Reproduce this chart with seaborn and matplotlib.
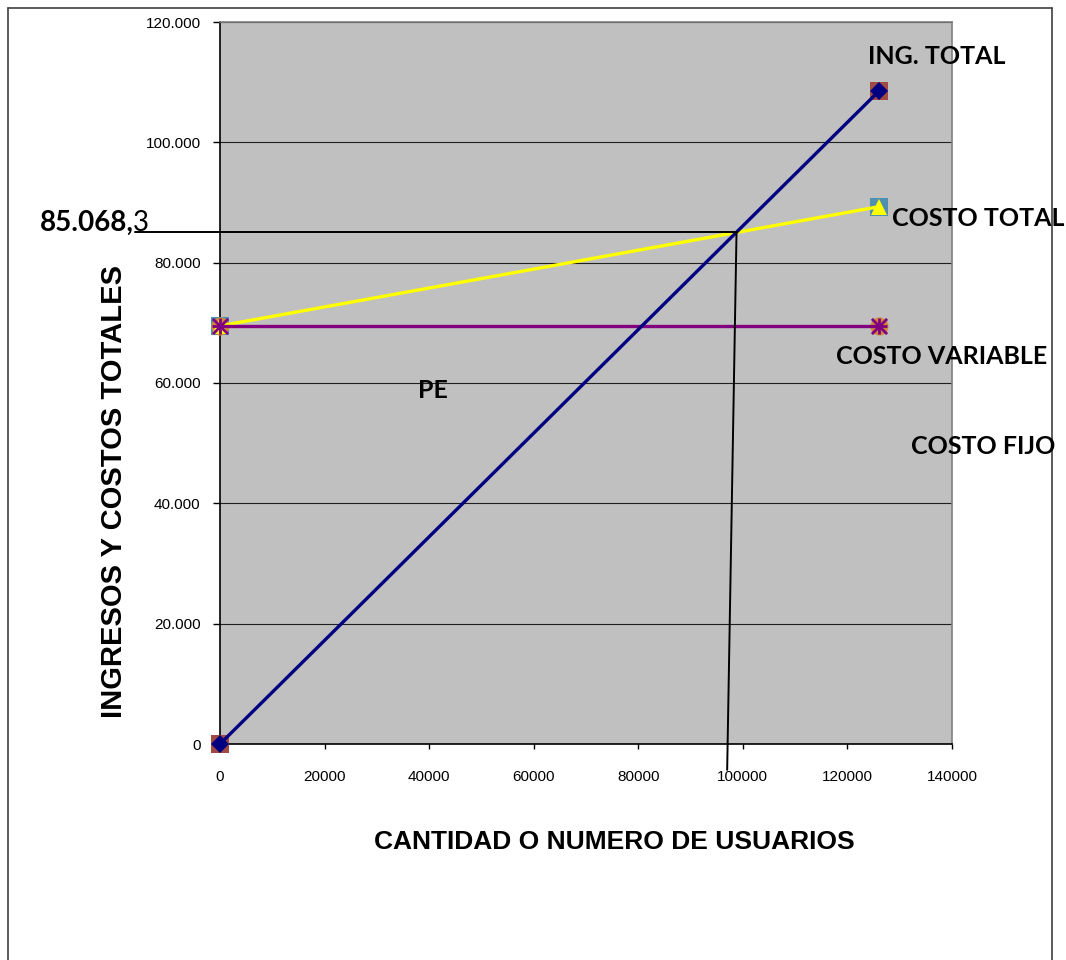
import matplotlib
matplotlib.use("Agg")
import matplotlib.pyplot as plt
import matplotlib.ticker as mticker
from matplotlib.lines import Line2D
import numpy as np
import pandas as pd
import seaborn as sns

# Break-even chart data
usuarios = [0, 126000]
ingreso_total = [0, 108500]
costo_total = [69500, 89300]
costo_fijo = [69500, 69500]
punto_equilibrio = 85068.3

x_ticks = [0, 20000, 40000, 60000, 80000, 100000, 120000, 140000]
y_ticks = [0, 20000, 40000, 60000, 80000, 100000, 120000]

sns.set_theme(style="white")
plt.rcParams["font.family"] = ["Liberation Sans", "DejaVu Sans"]
plt.rcParams["text.color"] = "black"
plt.rcParams["axes.labelcolor"] = "black"
plt.rcParams["xtick.color"] = "black"
plt.rcParams["ytick.color"] = "black"

fig = plt.figure(figsize=(10.66, 9.6), dpi=100)
W, H = 1066, 960
ax = fig.add_axes([220 / W, 1 - 744 / H, (952 - 220) / W, (744 - 22) / H])
ax.set_facecolor("#C0C0C0")

df = pd.DataFrame({
    "x": usuarios * 3,
    "y": ingreso_total + costo_total + costo_fijo,
    "serie": ["ING. TOTAL"] * 2 + ["COSTO TOTAL"] * 2 + ["COSTO FIJO"] * 2,
})

# underlying marker-only series
sns.scatterplot(x=usuarios, y=ingreso_total, marker="s", s=160, color="#A04A44",
                edgecolor="#A04A44", linewidth=0, ax=ax, zorder=3, legend=False,
                clip_on=False)
sns.scatterplot(x=usuarios, y=costo_total, marker="s", s=150, color="#4F8FB0",
                edgecolor="#4F8FB0", linewidth=0, ax=ax, zorder=3, legend=False,
                clip_on=False)
sns.scatterplot(x=usuarios, y=costo_fijo, marker="o", s=170, color="#D08A3A",
                edgecolor="#D08A3A", linewidth=0, ax=ax, zorder=3, legend=False,
                clip_on=False)

# lines with their own markers
palette = {"COSTO TOTAL": "#FFFF00", "COSTO FIJO": "#800080", "ING. TOTAL": "#000080"}
for serie, mk, ms in [("COSTO TOTAL", "^", 11), ("COSTO FIJO", None, 0), ("ING. TOTAL", "D", 9)]:
    sub = df[df["serie"] == serie]
    sns.lineplot(data=sub, x="x", y="y", color=palette[serie], linewidth=2.4,
                 marker=mk, markersize=ms, markeredgewidth=0, ax=ax, zorder=4,
                 legend=False, clip_on=False)

# star markers on the fixed-cost series
for m in ["x", "+"]:
    sns.scatterplot(x=usuarios, y=costo_fijo, marker=m, s=120, color="#800080",
                    linewidth=2, ax=ax, zorder=5, legend=False, clip_on=False)

ax.set_xlim(0, 140000)
ax.set_ylim(0, 120000)
ax.set_xticks(x_ticks)
ax.set_yticks(y_ticks)
ax.xaxis.set_major_formatter(mticker.FuncFormatter(lambda v, p: f"{int(v)}"))
ax.yaxis.set_major_formatter(mticker.FuncFormatter(
    lambda v, p: "0" if v == 0 else f"{int(v):,}".replace(",", ".")))
ax.tick_params(axis="y", direction="out", length=5, width=1, color="black",
               labelsize=11, pad=9, left=True, labelcolor="black")
ax.tick_params(axis="x", direction="out", length=3.6, width=1, color="black",
               labelsize=11, pad=15, bottom=True, labelcolor="black")
ax.grid(axis="y", color="#202020", linewidth=0.8)
ax.set_axisbelow(True)
for side in ["top", "right"]:
    ax.spines[side].set_color("#808080")
    ax.spines[side].set_linewidth(1.2)
for side in ["left", "bottom"]:
    ax.spines[side].set_color("black")
    ax.spines[side].set_linewidth(1.2)

ax.set_xlabel("CANTIDAD O NUMERO DE USUARIOS", fontsize=19, fontweight="bold",
              color="black")
ax.set_ylabel("INGRESOS Y COSTOS TOTALES", fontsize=21, fontweight="bold",
              color="black")
ax.xaxis.set_label_coords((614 - 220) / 732, -(830 - 744) / 722)
ax.yaxis.set_label_coords(-(220 - 128) / 732, (744 - 491) / 722)

# break-even guide lines
pe_x = punto_equilibrio * usuarios[1] / ingreso_total[1]
ax.add_line(Line2D([-16300, pe_x], [punto_equilibrio, punto_equilibrio],
                   color="black", linewidth=1.4, clip_on=False, zorder=6))
ax.add_line(Line2D([pe_x, 97000], [punto_equilibrio, -4300],
                   color="black", linewidth=1.4, clip_on=False, zorder=6))

# annotations
lab = dict(family=["Lato", "DejaVu Sans"], fontsize=18, fontweight="bold",
           color="black", va="center")
fig.text(937 / W, 1 - 57 / H, "ING. TOTAL", ha="center", **lab)
fig.text(978 / W, 1 - 219 / H, "COSTO TOTAL", ha="center", **lab)
fig.text(942 / W, 1 - 356 / H, "COSTO VARIABLE", ha="center", **lab)
fig.text(433 / W, 1 - 390 / H, "PE", ha="center", **lab)
fig.text(983 / W, 1 - 447 / H, "COSTO FIJO", ha="center", **lab)
fig.text(40 / W, 1 - 223 / H, "85.068,", ha="left", family=["Lato", "DejaVu Sans"],
         fontsize=20, fontweight="bold", color="black", va="center")
fig.text(133 / W, 1 - 223 / H, "3", ha="left", family=["Lato", "DejaVu Sans"],
         fontsize=20, color="black", va="center")

# chart border
for xs, ys in [([8, 8], [8, 960]), ([1052, 1052], [8, 960]), ([8, 1052], [8, 8])]:
    fig.add_artist(Line2D([x / W for x in xs], [1 - y / H for y in ys],
                          color="#404040", linewidth=1.2,
                          transform=fig.transFigure))

fig.savefig("out.png", dpi=100, facecolor="white")
